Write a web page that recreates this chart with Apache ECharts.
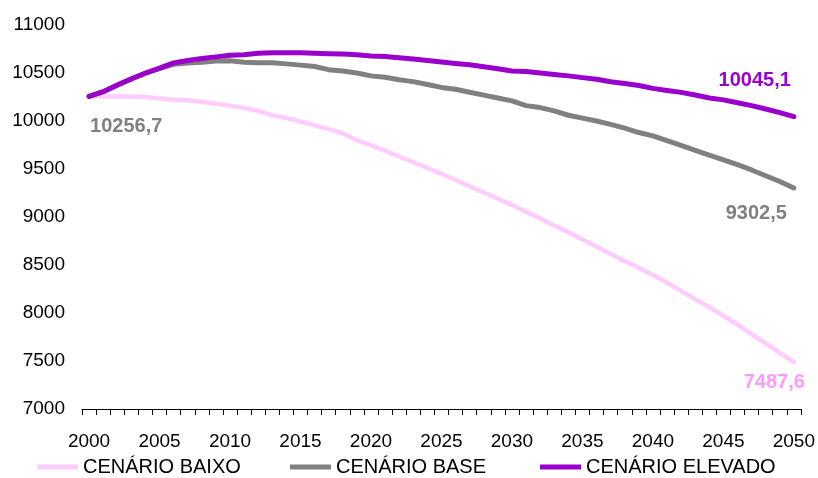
<!DOCTYPE html>
<html>
<head>
<meta charset="utf-8">
<script src="https://cdn.jsdelivr.net/npm/echarts@6/dist/echarts.min.js"></script>
<style>
html,body{margin:0;padding:0;background:#fff;}
#chart{width:818px;height:478px;}
</style>
</head>
<body>
<div id="chart"></div>
<script>
var years = [];
for (var y = 2000; y <= 2050; y++) years.push(String(y));

var seriesNames = ['CENÁRIO BAIXO', 'CENÁRIO BASE', 'CENÁRIO ELEVADO'];

var baixo = [10256.7,10255,10255,10254,10250,10235,10222,10215,10200,10180,
  10160,10135,10105,10060,10030,9995,9955,9915,9870,9800,
  9745,9690,9630,9570,9510,9450,9385,9320,9255,9190,
  9125,9055,8985,8910,8840,8765,8690,8615,8540,8470,
  8395,8315,8230,8145,8060,7970,7880,7780,7685,7585,7487.6];

var base = [10256.7,10303,10372,10436,10495,10545,10590,10605,10612,10625,
  10627,10612,10608,10606,10595,10582,10568,10535,10520,10500,
  10470,10455,10430,10410,10380,10350,10330,10300,10270,10240,
  10210,10160,10140,10105,10060,10030,10000,9965,9925,9880,
  9845,9795,9745,9695,9645,9595,9545,9490,9430,9370,9302.5];

var elevado = [10256.7,10305,10375,10440,10500,10550,10605,10630,10650,10668,
  10685,10690,10705,10710,10710,10710,10705,10700,10698,10690,
  10678,10672,10660,10645,10630,10615,10600,10585,10565,10545,
  10520,10515,10500,10485,10470,10452,10435,10408,10390,10370,
  10340,10318,10298,10270,10240,10220,10190,10160,10125,10088,10045.1];

var FONT = '"Liberation Sans", Arial, sans-serif';
var colors = ['#FFCCFF', '#808080', '#9900CC'];

function fmt(v){ return v.toFixed(1).replace('.', ','); }

function buildData(values, labels){
  return values.map(function(v, i){
    if (labels[i]) {
      return { value: v, label: Object.assign({ show: true, formatter: fmt(v), fontFamily: FONT, fontSize: 20, fontWeight: 'bold' }, labels[i]) };
    }
    return v;
  });
}
var last = years.length - 1;
var lbBaixo = {}; lbBaixo[last] = { position: 'bottom', align: 'right', distance: 10, offset: [11, 0], color: '#FF99FF' };
var lbBase = {}; lbBase[0] = { position: 'bottom', align: 'left', distance: 20, offset: [1, 0], color: '#808080' };
lbBase[last] = { position: 'bottom', align: 'right', distance: 15, offset: [-7, 0], color: '#808080' };
var lbElev = {}; lbElev[last] = { position: 'top', align: 'right', distance: 26, offset: [-3, 0], color: '#9900CC' };

function mkSeries(name, values, color, width, labels){
  return {
    name: name, type: 'line', data: buildData(values, labels),
    symbol: 'circle', symbolSize: 0.1, showSymbol: true,
    itemStyle: { color: color },
    lineStyle: { color: color, width: width, cap: 'round', join: 'round' },
    emphasis: { disabled: true },
    label: { show: false },
    animation: false
  };
}

function mkLegend(i, left){
  return {
    data: [seriesNames[i]],
    left: left, bottom: -4,
    icon: 'rect', itemWidth: 41, itemHeight: 5,
    textStyle: { fontFamily: FONT, fontSize: 20, color: '#000' }
  };
}

var chart = echarts.init(document.getElementById('chart'), null, { renderer: 'canvas' });
chart.setOption({
  animation: false,
  color: colors,
  textStyle: { fontFamily: FONT },
  grid: { left: 82, right: 17, top: 25, bottom: 69, containLabel: false },
  legend: [mkLegend(0, 32), mkLegend(1, 285), mkLegend(2, 535)],
  xAxis: {
    type: 'category', data: years, boundaryGap: true,
    axisLine: { show: true, lineStyle: { color: '#000', width: 1 } },
    axisTick: { show: true, interval: 0, length: 6, lineStyle: { color: '#000' } },
    axisLabel: { interval: 4, fontFamily: FONT, fontSize: 19, color: '#000', margin: 23 },
    splitLine: { show: false }
  },
  yAxis: {
    type: 'value', min: 7000, max: 11000, interval: 500,
    axisLine: { show: false }, axisTick: { show: false },
    splitLine: { show: false },
    axisLabel: { fontFamily: FONT, fontSize: 19, color: '#000', margin: 17, formatter: function(v){ return String(v); } }
  },
  series: [
    mkSeries(seriesNames[0], baixo, colors[0], 4.5, lbBaixo),
    mkSeries(seriesNames[1], base, colors[1], 5, lbBase),
    mkSeries(seriesNames[2], elevado, colors[2], 5, lbElev)
  ]
});
</script>
</body>
</html>
